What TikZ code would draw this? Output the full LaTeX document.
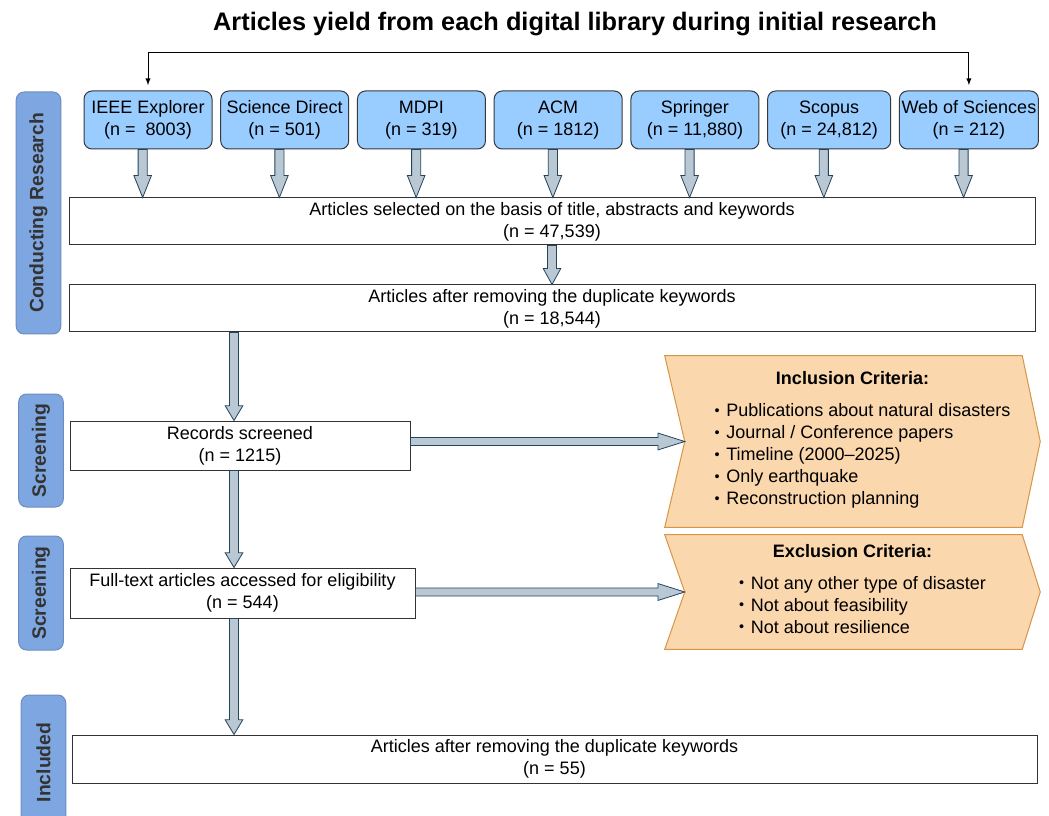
\documentclass[tikz,border=0pt]{standalone}
\usepackage{fontspec}
\usepackage{graphicx}
\setmainfont{Liberation Sans}
\usetikzlibrary{shapes,arrows,positioning,calc,backgrounds}

\definecolor{dbblue}{RGB}{153,204,255}
\definecolor{dbline}{RGB}{54,57,61}
\definecolor{stagefill}{RGB}{126,166,224}
\definecolor{stageline}{RGB}{108,142,191}
\definecolor{flowfill}{RGB}{186,200,211}
\definecolor{flowline}{RGB}{35,68,93}
\definecolor{critfill}{RGB}{250,215,172}
\definecolor{critline}{RGB}{214,150,70}
\definecolor{boxline}{RGB}{51,51,51}

\newcommand{\downflow}[3][11pt]{%
  \draw[flowarrow] let \p1=(#2), \p2=(#3) in
    (\x1-3.4pt,\y1) -- (\x1-3.4pt,\y2+#1) -- (\x1-6.6pt,\y2+#1) -- (\x1,\y2)
    -- (\x1+6.6pt,\y2+#1) -- (\x1+3.4pt,\y2+#1) -- (\x1+3.4pt,\y1) -- cycle;}
\newcommand{\rightflow}[3][20pt]{%
  \draw[flowarrow] let \p1=(#2), \p2=(#3) in
    (\x1,\y1+3pt) -- (\x2-#1,\y1+3pt) -- (\x2-#1,\y1+6.3pt) -- (\x2,\y1)
    -- (\x2-#1,\y1-6.3pt) -- (\x2-#1,\y1-3pt) -- (\x1,\y1-3pt) -- cycle;}
\newcommand{\critdot}{\raisebox{0.15ex}{\scalebox{0.8}{•}}\hspace{5pt}}

\begin{document}
\begin{tikzpicture}[x=0.75pt,y=-0.75pt,node distance=5.8pt,
  txt/.style={font=\fontsize{13.5}{16.5}\selectfont},
  db/.style={txt,draw=dbline,fill=dbblue,rounded corners=6pt,line width=0.75pt,
    minimum width=96pt,minimum height=43.5pt,inner sep=1pt,align=center},
  stepbox/.style={txt,draw=boxline,line width=0.75pt,align=center,inner sep=1pt},
  stage/.style={draw=stageline,fill=stagefill,rounded corners=6pt,line width=0.75pt,
    rotate=90,text=black!80,font=\fontsize{14.5}{18}\selectfont\bfseries,
    inner sep=0pt,minimum height=33.5pt},
  crit/.style={txt,align=center,inner sep=0pt,minimum width=281.25pt},
  critbox/.style={draw=critline,fill=critfill,line width=0.75pt},
  flowarrow/.style={draw=flowline,fill=flowfill,line width=0.6pt}]
\useasboundingbox (0,0) rectangle (1049,816);

\node[font=\fontsize{19}{23}\selectfont\bfseries] (title) at (575,24) {Articles yield from each digital library during initial research};

\node[db] (ieee) at (148,120) {IEEE Explorer\\(n = \ 8003)};
\node[db,right=of ieee] (sd) {Science Direct\\(n = 501)};
\node[db,right=of sd] (mdpi) {MDPI\\(n = 319)};
\node[db,right=of mdpi] (acm) {ACM\\(n = 1812)};
\node[db,right=of acm] (springer) {Springer\\(n = 11,880)};
\node[db,right=of springer,minimum width=92.25pt] (scopus) {Scopus\\(n = 24,812)};
\node[db,right=of scopus,minimum width=104.25pt] (wos) {Web of Sciences\\(n = 212)};
\draw[latex-latex,line width=0.75pt,shorten <=4pt,shorten >=4pt] (ieee.north) -- ++(0,-38) -| (wos.north);

\node[stepbox,minimum width=724.5pt,minimum height=35.25pt] (sel) at (552,221.5) {Articles selected on the basis of title, abstracts and keywords\\(n = 47,539)};
\node[stepbox,minimum width=724.5pt,minimum height=35.25pt] (dup) at (552,308.5) {Articles after removing the duplicate keywords\\(n = 18,544)};
\node[stepbox,minimum width=255pt,minimum height=36.75pt] (rec) at (240,445.5) {Records screened\\(n = 1215)};
\node[stepbox,minimum width=258.75pt,minimum height=37.5pt] (full) at (242.5,593) {Full-text articles accessed for eligibility\\(n = 544)};
\node[stepbox,minimum width=723.75pt,minimum height=36pt] (incl) at (554.5,759) {Articles after removing the duplicate keywords\\(n = 55)};

\node[crit,minimum height=128.25pt] (critin) at (852.5,441.5) {\textbf{Inclusion Criteria:}\\[7.5pt]
  \begin{tabular}[t]{@{\hspace{15pt}}l@{}}
  \critdot Publications about natural disasters\\
  \critdot Journal / Conference papers\\
  \critdot Timeline (2000–2025)\\
  \critdot Only earthquake\\
  \critdot Reconstruction planning
  \end{tabular}};
\node[crit,minimum height=85.5pt] (critex) at (852.5,592) {\textbf{Exclusion Criteria:}\\[7.5pt]
  \begin{tabular}[t]{@{\hspace{15pt}}l@{}}
  \critdot Not any other type of disaster\\
  \critdot Not about feasibility\\
  \critdot Not about resilience
  \end{tabular}};
\coordinate (incnotch) at ($(critin.west)+(20,0)$);
\coordinate (excnotch) at ($(critex.west)+(20,0)$);
\begin{scope}[on background layer]
\draw[critbox] (critin.north west) -- ([xshift=-13.5pt]critin.north east) -- (critin.east)
  -- ([xshift=-13.5pt]critin.south east) -- (critin.south west) -- (incnotch) -- cycle;
\draw[critbox] (critex.north west) -- ([xshift=-13.5pt]critex.north east) -- (critex.east)
  -- ([xshift=-13.5pt]critex.south east) -- (critex.south west) -- (excnotch) -- cycle;
\end{scope}

\node[stage,minimum width=181.5pt] (conduct) at (38.5,213) {Conducting Research};
\node[stage,minimum width=84.75pt] (screen1) at (41,450.5) {Screening};
\node[stage,minimum width=85.5pt] (screen2) at (41,593) {Screening};
\node[stage,minimum width=101.25pt] (included) at (43.5,762.5) {Included};

\foreach \db in {ieee,sd,mdpi,acm,springer,scopus,wos}
  \downflow[16.5pt]{[xshift=-4pt]\db.south}{[xshift=-4pt]\db.south |- sel.north};
\downflow[12pt]{sel.south}{dup.north};
\coordinate (spine) at (234,0);
\downflow{dup.south -| spine}{rec.north -| spine};
\downflow{rec.south -| spine}{full.north -| spine};
\downflow{full.south -| spine}{incl.north -| spine};
\rightflow{rec.east |- incnotch}{incnotch};
\rightflow{full.east |- excnotch}{excnotch};
\end{tikzpicture}
\end{document}
